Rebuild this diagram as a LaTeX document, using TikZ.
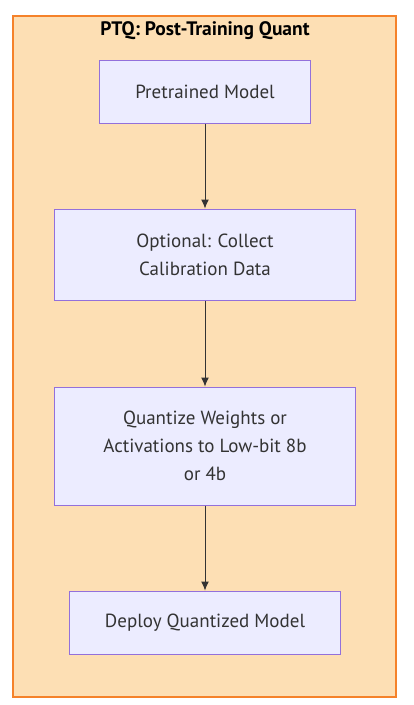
\documentclass[tikz,border=0pt]{standalone}
\usepackage{fontspec}
\setmainfont{PT Sans}
\usetikzlibrary{arrows.meta}
\definecolor{clusterfill}{HTML}{FDDFB4}
\definecolor{clusterline}{HTML}{F5822A}
\definecolor{boxfill}{HTML}{ECECFF}
\definecolor{boxline}{HTML}{9370DB}
\definecolor{ink}{HTML}{333333}
\begin{document}
\begin{tikzpicture}[x=1pt, y=-1pt,
  stage/.style={shape=rectangle, draw=boxline, fill=boxfill, line width=1pt, text=ink, align=center, font=\fontsize{19}{28}\selectfont},
  flow/.style={-{Latex[length=9pt, width=8pt]}, ink, line width=1pt}]
\useasboundingbox (0,0) rectangle (414,705);
\draw[clusterline, fill=clusterfill, line width=1.5pt] (13,16) rectangle (396,697);
\node[font=\bfseries\fontsize{19.5}{23}\selectfont] (T) at (205,31) {PTQ: Post-Training Quant};
\node[stage, minimum width=211pt, minimum height=63pt] (N1) at (205,91.5) {Pretrained Model};
\node[stage, minimum width=301pt, minimum height=91pt] (N2) at (205,254.5) {Optional: Collect\\Calibration Data};
\node[stage, minimum width=301pt, minimum height=118pt] (N3) at (205,446) {Quantize Weights or\\Activations to Low-bit 8b\\or 4b};
\node[stage, minimum width=271pt, minimum height=63pt] (N4) at (205,622.5) {Deploy Quantized Model};
\draw[flow] (N1) -- (N2);
\draw[flow] (N2) -- (N3);
\draw[flow] (N3) -- (N4);
\end{tikzpicture}
\end{document}
